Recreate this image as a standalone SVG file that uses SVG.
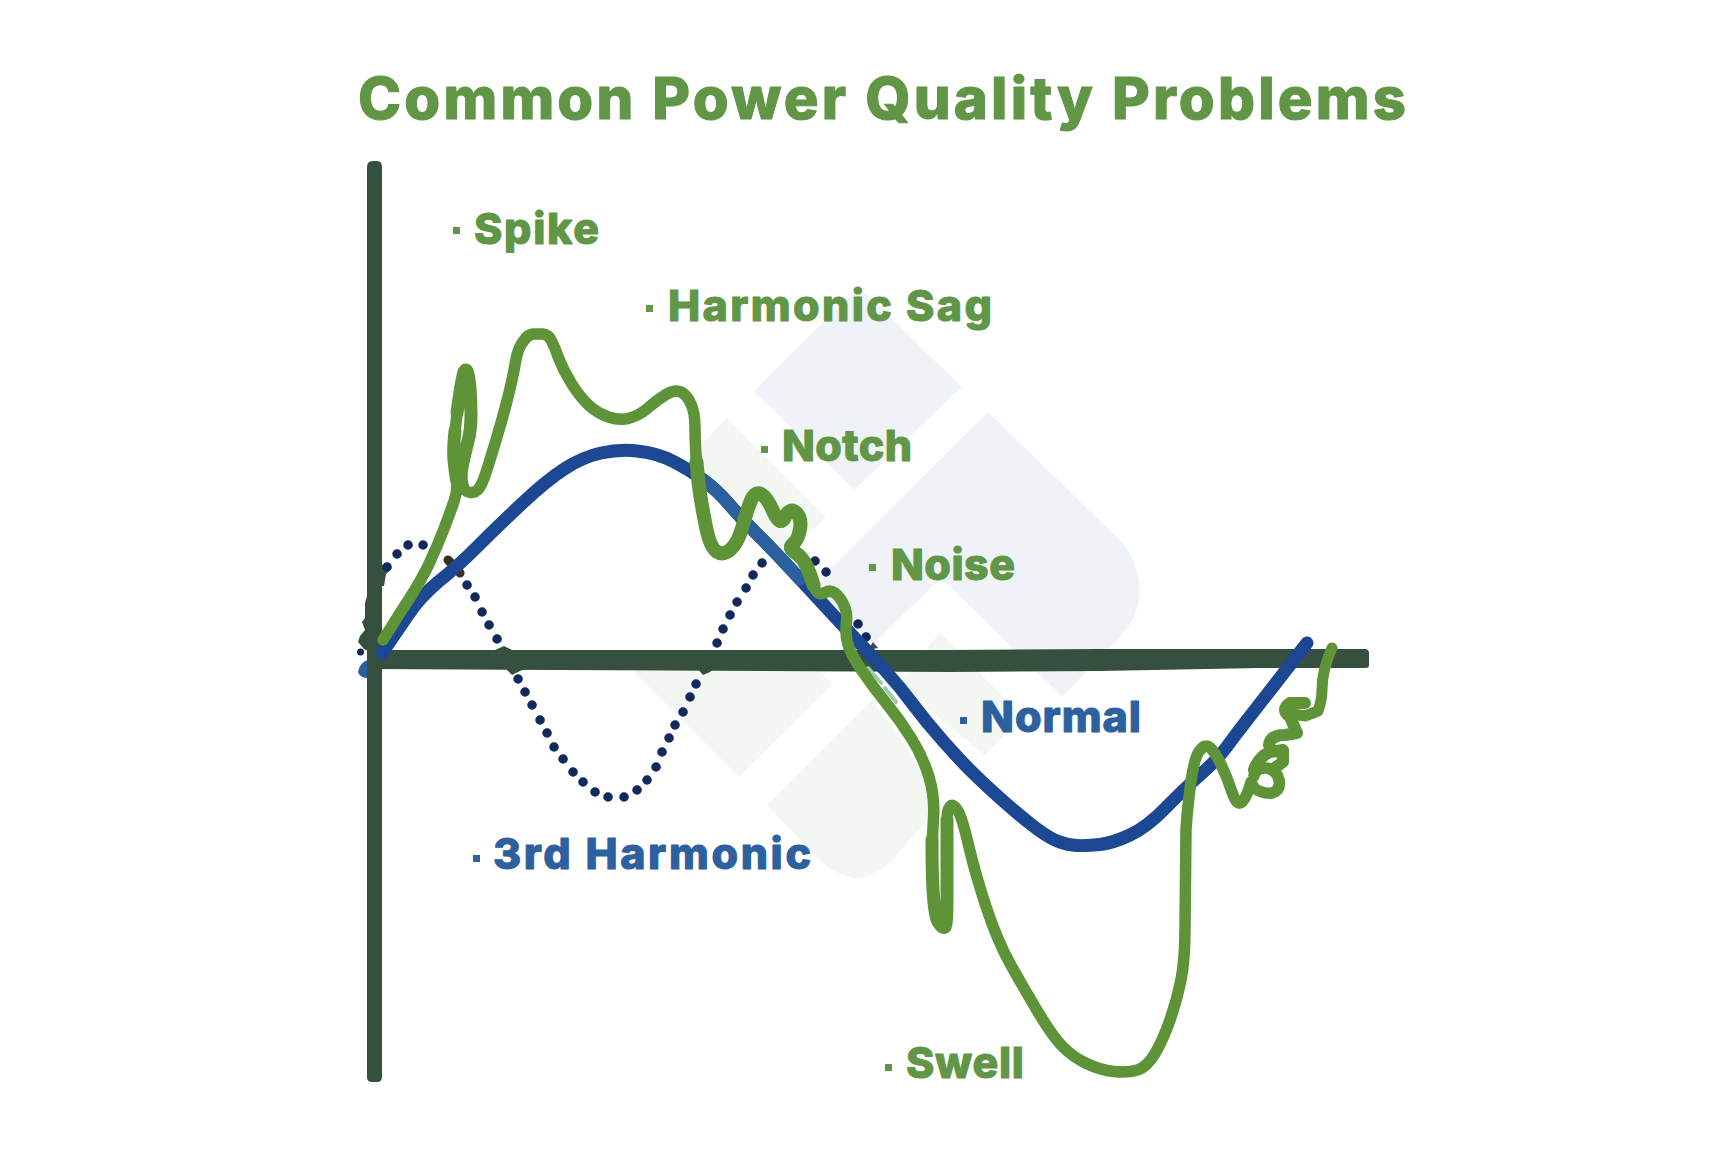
<svg xmlns="http://www.w3.org/2000/svg" width="1714" height="1162" viewBox="0 0 1714 1162">
<style>
.t{font-family:"Inter","Noto Sans",sans-serif;font-weight:800;stroke-width:1;stroke-linejoin:round}
.g{fill:#609646;stroke:#609646}
.b{fill:#2d609e;stroke:#2d609e}
.c{fill:none;stroke-linecap:round;stroke-linejoin:round}
.gc{stroke:#5f9338}
</style>
<rect width="1714" height="1162" fill="#fff"/>
<g id="background">
<path fill="#eff3f8" d="M859 287L962 387L854 490L754 391Z"/>
<path fill="#eff3f8" d="M988 412L1117 537Q1138 558 1140 592Q1138 618 1120 637L1062 697L945 582Q941 578 937 582L873 644L814 585Z"/>
<path fill="#f3f7f2" d="M727 418L826 517L790 553L775 560L700 480L697 448Z"/>
<path fill="#f3f7f2" d="M630 668L817 668L832 685L739 777Z"/>
<path fill="#f3f7f2" d="M940 632L1023 717L985 755L905 690L900 682Z"/>
<path fill="#f3f7f2" d="M767 805L872 700L905 745L932 790L932 815L905 845Q880 878 855 878Q832 875 815 855Z"/>
<path fill="#2b5f9e" d="M358 672Q360 662 368 660V678Q360 678 358 672Z"/>
<circle cx="360.500" cy="652" r="3.500" fill="#12295c"/>
</g>
<g id="axes">
<path fill="#35503f" d="M367 167Q367 161 373 161H377Q382 161 382 167V1077Q382 1082 377 1082H372Q367 1082 367 1077Z"/>
<path fill="#35503f" d="M367 650H950L1100 649H1366Q1369 650 1369 653V665Q1369 668 1366 668H1260L1100 671L950 672L367 669Z"/>
<path fill="#35503f" d="M367 596L365 603L365 618L362 622L365 630L360 636L358 642L365 650L367 650ZM382 565L386 563L391 569L386 574L384 586L382 586Z"/>
<path fill="#35503f" d="M495 650L504 646L512 650ZM505 668L512 675L520 671L528 668ZM698 669L703 675L710 672L715 667ZM868 650L873 642L878 648Z"/>
</g>
<g id="curves">
<path id="harmonic" class="c" stroke="#12295c" stroke-width="9.500" d="M387 567h.1M397 554h.1M408 545h.1M423 545h.1M467 585h.1M475 597h.1M482 612h.1M489 625h.1M497 639h.1M518 679h.1M525 692h.1M532 705h.1M540 720h.1M547 733h.1M554 747h.1M563 759h.1M573 772h.1M583 782h.1M595 792h.1M608 797h.1M624 797h.1M637 790h.1M647 780h.1M656 767h.1M662 752h.1M669 738h.1M675 725h.1M683 712h.1M690 697h.1M696 684h.1M717 643h.1M723 629h.1M730 615h.1M737 602h.1M746 588h.1M753 575h.1M762 563h.1M815 561h.1M826 572h.1M858 624h.1M866 637h.1"/>
<path class="c" stroke="#3b2f20" stroke-width="9" d="M448 560l3 3M460 573h.1"/>
<path id="normal" class="c" stroke="#1c4792" stroke-width="13" d="M382 653L408 615Q420 597 438 582Q457 567 477 547Q497 527 522 503.500Q547 480 565 468.500Q583 457 601 453Q620 449 637 451Q657 453 673.500 461.500Q690 470 703.500 480Q717 490 728.500 503.500Q740 517 756.500 533.500Q773 550 793 571.500Q813 593 830 611.500Q847 630 860 643.500Q873 657 886.500 672Q900 687 913.500 705Q927 723 943.500 741.500Q960 760 970 770Q980 780 996.500 795Q1013 810 1030 823.500Q1047 837 1057 841Q1067 845 1077 845.500Q1087 846 1100 844.500Q1113 843 1130 835Q1147 827 1165 808.500Q1183 790 1200 775Q1217 760 1227 746.500L1237 733L1307 643"/>
<path class="c" stroke="#2b5f9e" stroke-width="13" d="M700 478Q717 490 728.500 503.500Q740 517 756.500 533.500Q773 550 793 571.500L800 579"/>
<path class="c" stroke="#9ccbb3" stroke-width="4" d="M868 668L881 683M885 688L896 702"/>
<path id="problems" class="c gc" stroke-width="11.500" d="M383 640L400 613Q420 583 428.500 565Q437 547 443.500 530Q450 513 454 501.500Q458 490 456.500 480Q455 470 454 460Q453 450 455 431.500Q457 413 459.500 395Q462 377 464 372Q466 368 467.500 372Q469 377 470 388Q471 400 471 415Q471 430 468 441Q465 453 462.500 465Q460 477 462 484Q465 492 470 492.500Q475 493 478.500 489Q482 485 486 472.500Q490 460 496.500 438.500Q503 417 508 397Q513 377 515.500 362Q518 347 524 340.500Q527 335 533 334L543 334Q549 335 551 340Q555 347 558 356.500Q563 370 571.500 383.500Q580 397 588.500 405Q597 413 608.500 417Q620 421 630 418Q640 415 648.500 407.500Q657 400 666 394.500Q675 389 681 392Q687 395 691 404Q695 413 695 428Q695 443 696.500 461.500Q698 480 700 493.500Q702 507 706 527Q710 547 716.500 551.500Q723 556 730.500 549.500Q738 543 742.500 526.500Q747 510 751 500.500Q755 491 761 494Q767 497 773.500 512Q780 527 785 517Q790 507 796 512.500Q802 518 800 529Q798 540 793 544Q788 548 795 552.500Q802 557 806 565Q810 573 813.500 585Q817 597 825 592.500Q833 588 840.500 599Q848 610 846.500 621.500Q845 633 847.500 643Q850 653 861.500 670Q873 687 886.500 703.500Q900 720 911.500 738.500Q923 757 929 777Q935 797 933.500 818.500Q932 840 932 858.500Q932 877 933.500 897Q935 917 938.500 922.500Q942 928 944.500 927.500Q947 927 947 900L947 820Q947 810 950 806.500Q953 803 957.500 810Q962 817 968.500 845Q975 873 986 906.500Q997 940 1010 963.500Q1023 987 1038 1012Q1053 1037 1063 1047Q1073 1057 1086.500 1063.500Q1100 1070 1114 1071.500Q1128 1073 1137.500 1070Q1147 1067 1155 1053.500Q1163 1040 1170 1020Q1177 1000 1181 980Q1185 960 1185 926.500L1186 830Q1187 813 1189 797Q1193 760 1199 751.500Q1205 743 1210 747.500Q1215 752 1221 764.500Q1227 777 1232 792Q1237 807 1242 802Q1247 797 1251 782L1254 788Q1262 794 1272 793Q1281 790 1279 780Q1276 768 1265 768Q1255 768 1254 776"/>
<path class="c gc" stroke-width="14" d="M696.500 461.500Q698 480 700 493.500Q702 507 706 527Q710 547 716.500 551.500Q723 556 730.500 549.500Q738 543 742.500 526.500Q747 510 751 500.500Q755 491 761 494Q767 497 773.500 512Q780 527 785 517Q790 507 796 512.500Q802 518 800 529Q798 540 793 544Q788 548 795 552.500Q802 557 806 565Q810 573 813.500 585"/>
<path class="c gc" stroke-width="13" d="M457 413Q462 377 464 372Q466 368 467.500 372Q469 377 470 388Q471 400 471 415Q471 430 468 441Q465 453 462.500 465Q460 477 462 484M455 431Q453 450 454 460Q455 470 456.500 480"/>
<path class="c gc" stroke-width="13" d="M932 840Q932 877 933.500 897Q935 917 938.500 922.500Q942 928 944.500 927.500Q947 927 947 900L947 820"/>
<path class="c gc" stroke-width="12" d="M1254 770Q1258 757 1270 752L1283 750L1283 762L1272 770"/>
<path class="c gc" stroke-width="12" d="M1269 745Q1270 735 1285 735L1297 733L1290 717Q1280 710 1290 703L1305 703"/>
<path class="c gc" stroke-width="11" d="M1292 714L1305 716L1318 711Q1322 700 1322 690Q1322 670 1332 648"/>
</g>
<g id="labels">
<text class="t g" x="358" y="119" font-size="58" textLength="1048" lengthAdjust="spacing">Common Power Quality Problems</text>
<g fill="#609646">
<rect x="453" y="227" width="7" height="7"/><rect x="646" y="305" width="7" height="7"/><rect x="761" y="446" width="7" height="7"/><rect x="869" y="564" width="7" height="7"/><rect x="885" y="1064" width="7" height="7"/>
</g>
<g fill="#2d609e"><rect x="960" y="717" width="7" height="7"/><rect x="473" y="855" width="7" height="7"/></g>
<text class="t g" x="474" y="244" font-size="43" textLength="125" lengthAdjust="spacing">Spike</text>
<text class="t g" x="668" y="321" font-size="43" textLength="324" lengthAdjust="spacing">Harmonic Sag</text>
<text class="t g" x="782" y="461" font-size="43" textLength="130" lengthAdjust="spacing">Notch</text>
<text class="t g" x="891" y="580" font-size="43" textLength="124" lengthAdjust="spacing">Noise</text>
<text class="t g" x="906" y="1078" font-size="43" textLength="118" lengthAdjust="spacing">Swell</text>
<text class="t b" x="981" y="732" font-size="43" textLength="160" lengthAdjust="spacing">Normal</text>
<text class="t b" x="493" y="869" font-size="43" textLength="318" lengthAdjust="spacing">3rd Harmonic</text>
</g>
</svg>
